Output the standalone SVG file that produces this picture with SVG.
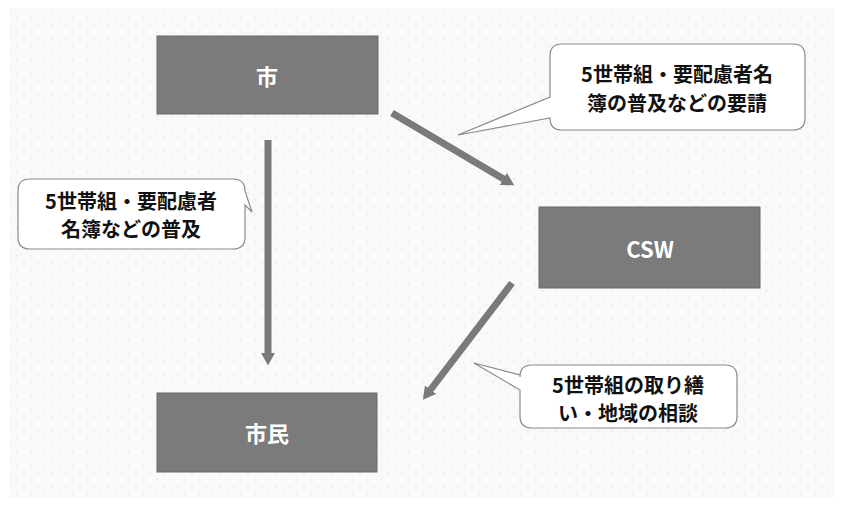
<svg xmlns="http://www.w3.org/2000/svg" width="845" height="507" viewBox="0 0 845 507">
<defs>
<pattern id="dots" width="14" height="14" patternUnits="userSpaceOnUse">
<rect width="14" height="14" fill="#f9f9f9"/>
<circle cx="3" cy="4" r="0.8" fill="#dedede"/>
<circle cx="10" cy="11" r="0.8" fill="#dedede"/>
</pattern>
<marker id="ah" markerWidth="2" markerHeight="2" refX="0.6" refY="1" orient="auto" markerUnits="strokeWidth">
<path d="M0,0 L1.8,1 L0,2 Z" fill="#7a7a7a"/>
</marker>
</defs>
<style>
.box{fill:#7b7b7b;stroke:#6a6a6a;stroke-width:1}
.bt{fill:#fff;font-family:"Noto Sans CJK JP","Noto Sans",sans-serif;font-weight:bold;font-size:22px;text-anchor:middle;dominant-baseline:central}
.call{fill:#fff;stroke:#8a8a8a;stroke-width:1.2}
.ct{fill:#111;font-family:"Noto Sans CJK JP",sans-serif;font-weight:bold;font-size:20px;text-anchor:middle;dominant-baseline:central}
.arr{stroke:#7a7a7a;stroke-width:7;fill:none}
</style>
<rect width="845" height="507" fill="#fff"/>
<rect x="10" y="8" width="825" height="490" fill="url(#dots)"/>
<g id="connectors">
<line class="arr" x1="392" y1="113" x2="507" y2="181" marker-end="url(#ah)"/>
<line class="arr" x1="268" y1="140" x2="268" y2="357" marker-end="url(#ah)"/>
<line class="arr" x1="512" y1="283" x2="428" y2="393" marker-end="url(#ah)"/>
</g>
<g id="node-city">
<rect class="box" x="157" y="36" width="221" height="78"/>
<text class="bt" x="267" y="75">市</text>
</g>
<g id="node-csw">
<rect class="box" x="539" y="207" width="221" height="81"/>
<text class="bt" x="650" y="248" font-size="24">CSW</text>
</g>
<g id="node-citizen">
<rect class="box" x="157" y="393" width="220" height="79"/>
<text class="bt" x="267" y="432">市民</text>
</g>
<g id="callout-1">
<path class="call" d="M562,44 H793 Q805,44 805,56 V118 Q805,130 793,130 H562 Q550,130 550,118 L458,135 L550,97 V56 Q550,44 562,44 Z"/>
<text class="ct" x="677" y="73">5世帯組・要配慮者名</text>
<text class="ct" x="677" y="102">簿の普及などの要請</text>
</g>
<g id="callout-2">
<path class="call" d="M30,179 H233 Q245,179 245,191 L252,212 L245,205 V237 Q245,249 233,249 H30 Q18,249 18,237 V191 Q18,179 30,179 Z"/>
<text class="ct" x="131" y="200">5世帯組・要配慮者</text>
<text class="ct" x="131" y="228">名簿などの普及</text>
</g>
<g id="callout-3">
<path class="call" d="M532,365 H725 Q737,365 737,377 V416 Q737,428 725,428 H532 Q520,428 520,416 V390 L474,363 L520,375 V377 Q520,365 532,365 Z"/>
<text class="ct" x="628" y="384">5世帯組の取り繕</text>
<text class="ct" x="628" y="412">い・地域の相談</text>
</g>
</svg>
